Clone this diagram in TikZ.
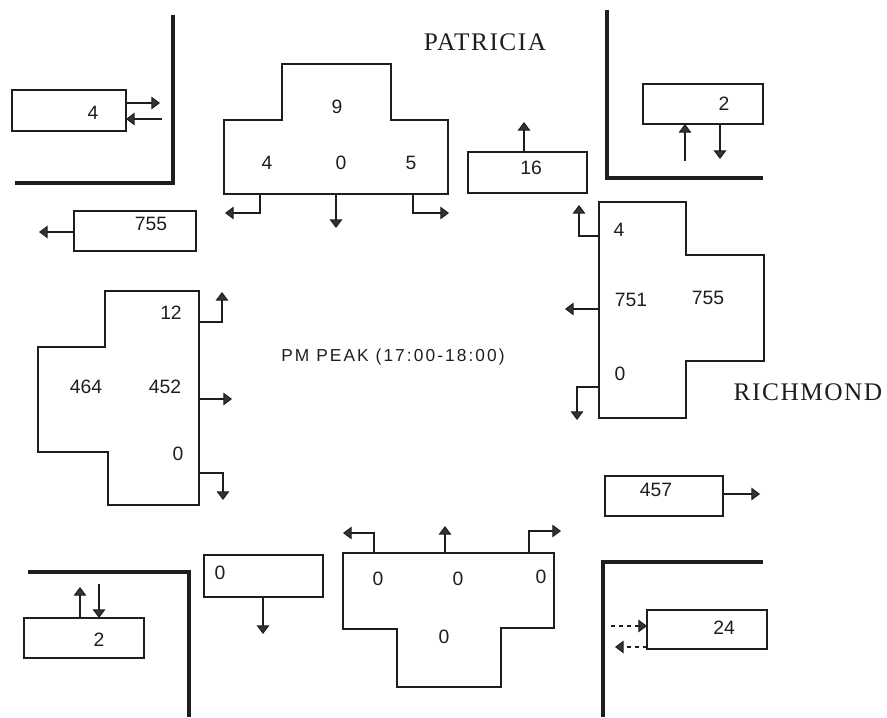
\documentclass[tikz,border=0pt]{standalone}
\usepackage{fontspec}
\setmainfont{Liberation Serif}
\newfontfamily\numfont{Liberation Sans}
\newfontfamily\pkfont[LetterSpace=12]{Liberation Sans}
\newfontfamily\streetfont[LetterSpace=6]{Liberation Serif}
\usetikzlibrary{arrows.meta,fit}
\definecolor{ink}{HTML}{1E1E1E}
\definecolor{tip}{HTML}{2C3832}
\begin{document}
\begin{tikzpicture}[x=0.75pt,y=-0.75pt,
  box/.style={draw=ink, line width=0.9pt, inner sep=0pt},
  tshape/.style={draw=ink, line width=0.9pt},
  kerb/.style={draw=ink, line width=2.6pt},
  arr/.style={draw=ink, line width=0.8pt, -{Triangle[width=9.5pt,length=6.5pt,fill=tip]}},
  darr/.style={arr, dashed},
  num/.style={font=\numfont\fontsize{14.5}{16}\selectfont, text=ink, inner sep=0pt},
  street/.style={font=\streetfont\fontsize{19}{21}\selectfont, text=ink, inner sep=0pt},
  peak/.style={font=\pkfont\fontsize{13}{15}\selectfont, text=ink, inner sep=0pt}
]
\useasboundingbox (0,0) rectangle (887,717);

% kerbs
\draw[kerb] (173,15) -- (173,183) -- (15,183);
\draw[kerb] (607,10) -- (607,178) -- (763,178);
\draw[kerb] (28,572) -- (189,572) -- (189,717);
\draw[kerb] (763,562) -- (603,562) -- (603,717);

% street names and title
\node[street] (patricia) at (485,42) {PATRICIA};
\node[street] (richmond) at (808,392) {RICHMOND};
\node[peak] (peak) at (393,357) {PM PEAK (17:00-18:00)};

% north approach (top T)
\draw[tshape] (224,120) -- (282,120) -- (282,64) -- (391,64) -- (391,120) -- (448,120) -- (448,194) -- (224,194) -- cycle;
\node[num] (n9) at (337,107) {9};
\node[num] (n4) at (267,163) {4};
\node[num] (n0) at (341,163) {0};
\node[num] (n5) at (411,163) {5};
\coordinate (NL) at (260,194); \coordinate (NLe) at (225,213);
\coordinate (NM) at (336,194); \coordinate (NMe) at (336,228);
\coordinate (NR) at (413,194); \coordinate (NRe) at (449,213);
\draw[arr] (NL) |- (NLe);
\draw[arr] (NM) -- (NMe);
\draw[arr] (NR) |- (NRe);

% north exit box 16
\node[box, fit={(468,152) (587,193)}] (b16) {};
\node[num] (t16) at (531,168) {16};
\coordinate (b16a) at (524,152); \coordinate (b16e) at (524,122);
\draw[arr] (b16a) -- (b16e);

% top-right box 2
\node[box, fit={(643,84) (763,124)}] (bTR) {};
\node[num] (tTR) at (724,104) {2};
\coordinate (tr1s) at (685,161); \coordinate (tr1e) at (685,124);
\coordinate (tr2s) at (720,124); \coordinate (tr2e) at (720,159);
\draw[arr] (tr1s) -- (tr1e);
\draw[arr] (tr2s) -- (tr2e);

% top-left box 4
\node[box, fit={(12,90) (126,131)}] (bTL) {};
\node[num] (tTL) at (93,113) {4};
\coordinate (tl1s) at (126,103); \coordinate (tl1e) at (160,103);
\coordinate (tl2s) at (162,119); \coordinate (tl2e) at (126,119);
\draw[arr] (tl1s) -- (tl1e);
\draw[arr] (tl2s) -- (tl2e);

% west exit box 755
\node[box, fit={(74,211) (196,251)}] (b755) {};
\node[num] (t755) at (151,224) {755};
\coordinate (w1s) at (74,232); \coordinate (w1e) at (39,232);
\draw[arr] (w1s) -- (w1e);

% west approach (left T)
\draw[tshape] (105,291) -- (199,291) -- (199,505) -- (108,505) -- (108,452) -- (38,452) -- (38,347) -- (105,347) -- cycle;
\node[num] (w12) at (171,313) {12};
\node[num] (w464) at (86,387) {464};
\node[num] (w452) at (165,387) {452};
\node[num] (w0) at (178,454) {0};
\coordinate (WA) at (199,322); \coordinate (WAe) at (222,292);
\coordinate (WB) at (199,399); \coordinate (WBe) at (232,399);
\coordinate (WC) at (199,473); \coordinate (WCe) at (223,500);
\draw[arr] (WA) -| (WAe);
\draw[arr] (WB) -- (WBe);
\draw[arr] (WC) -| (WCe);

% east approach (right T)
\draw[tshape] (599,202) -- (686,202) -- (686,255) -- (764,255) -- (764,361) -- (686,361) -- (686,418) -- (599,418) -- cycle;
\node[num] (e4) at (619,230) {4};
\node[num] (e751) at (631,300) {751};
\node[num] (e755) at (708,298) {755};
\node[num] (e0) at (620,374) {0};
\coordinate (EA) at (599,236); \coordinate (EAe) at (579,205);
\coordinate (EB) at (599,309); \coordinate (EBe) at (565,309);
\coordinate (EC) at (599,387); \coordinate (ECe) at (577,420);
\draw[arr] (EA) -| (EAe);
\draw[arr] (EB) -- (EBe);
\draw[arr] (EC) -| (ECe);

% east exit box 457
\node[box, fit={(605,476) (723,516)}] (b457) {};
\node[num] (t457) at (656,490) {457};
\coordinate (x1s) at (723,494); \coordinate (x1e) at (760,494);
\draw[arr] (x1s) -- (x1e);

% south approach (bottom T)
\draw[tshape] (343,553) -- (554,553) -- (554,628) -- (501,628) -- (501,687) -- (397,687) -- (397,629) -- (343,629) -- cycle;
\node[num] (s1) at (378,579) {0};
\node[num] (s2) at (458,579) {0};
\node[num] (s3) at (541,577) {0};
\node[num] (s4) at (444,637) {0};
\coordinate (SA) at (374,553); \coordinate (SAe) at (343,533);
\coordinate (SB) at (445,553); \coordinate (SBe) at (445,526);
\coordinate (SC) at (529,553); \coordinate (SCe) at (561,531);
\draw[arr] (SA) |- (SAe);
\draw[arr] (SB) -- (SBe);
\draw[arr] (SC) |- (SCe);

% south exit box 0
\node[box, fit={(204,555) (323,597)}] (bS0) {};
\node[num] (tS0) at (220,573) {0};
\coordinate (so1s) at (263,597); \coordinate (so1e) at (263,634);
\draw[arr] (so1s) -- (so1e);

% bottom-left box 2
\node[box, fit={(24,618) (144,658)}] (bBL) {};
\node[num] (tBL) at (99,640) {2};
\coordinate (bl1s) at (80,618); \coordinate (bl1e) at (80,587);
\coordinate (bl2s) at (99,584); \coordinate (bl2e) at (99,618);
\draw[arr] (bl1s) -- (bl1e);
\draw[arr] (bl2s) -- (bl2e);

% bottom-right box 24
\node[box, fit={(647,610) (767,649)}] (bBR) {};
\node[num] (tBR) at (724,628) {24};
\coordinate (br1s) at (611,626); \coordinate (br1e) at (647,626);
\coordinate (br2s) at (647,647); \coordinate (br2e) at (615,647);
\draw[darr] (br1s) -- (br1e);
\draw[darr] (br2s) -- (br2e);
\end{tikzpicture}
\end{document}
